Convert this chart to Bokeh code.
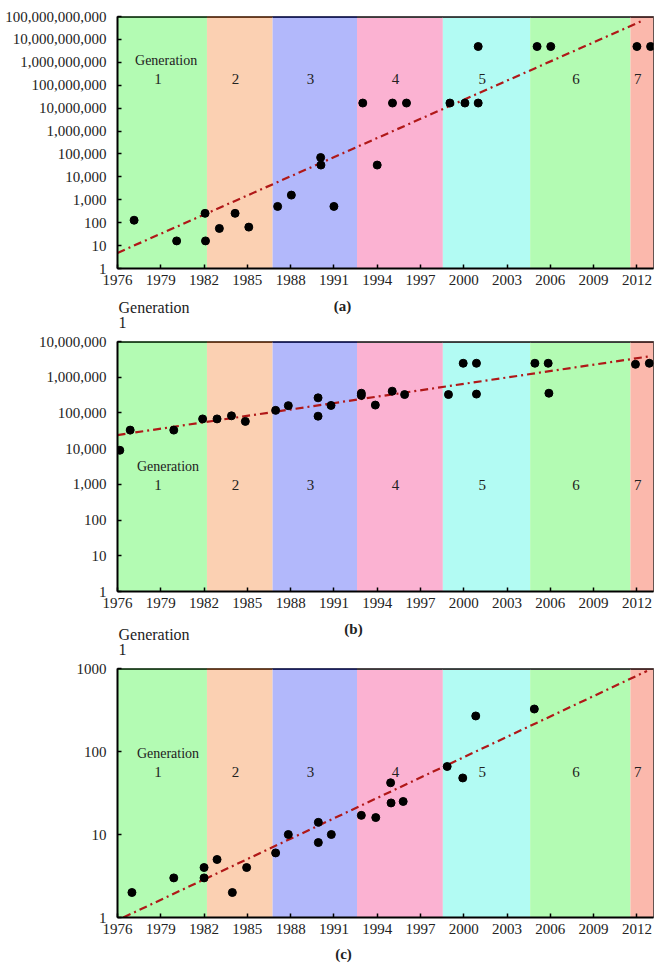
from bokeh.plotting import figure
from bokeh.layouts import column
from bokeh.models import Range1d, FixedTicker, NumeralTickFormatter, BoxAnnotation
from bokeh.core.properties import value
from bokeh.embed import file_html
from bokeh.resources import INLINE

FONT = "Liberation Serif"
TXT = "#222222"
BORDER_L, BORDER_R, WIDTH = 117, 3, 656

# ---- shared categories ----
band_edges = [1976.0, 1982.2, 1986.75, 1992.6, 1998.55, 2004.6, 2011.55, 2013.15]
band_names = ["1", "2", "3", "4", "5", "6", "7"]
band_fill = ["#b3fbb3", "#fbd0b2", "#b2b8fb", "#fbb2d2", "#b2fbf3", "#b3fbb3", "#fbb8ac"]
band_top = ["#244a24", "#6a3a1c", "#1c2160", "#3a3a3a", "#3a3a3a", "#3a3a3a", "#4a2a2a"]
x_ticks = [1976, 1979, 1982, 1985, 1988, 1991, 1994, 1997, 2000, 2003, 2006, 2009, 2012]

# ---- panel (a) ----
years_a = [1977.15, 1980.1, 1982.07, 1982.1, 1983.06, 1984.15, 1985.1, 1987.1, 1988.05,
           1990.08, 1990.1, 1991.0, 1993.0, 1994.0, 1995.06, 1996.03, 1999.04, 2000.08,
           2001.0, 2001.0, 2005.08, 2006.03, 2012.0, 2012.95]
values_a = [128, 16, 256, 16, 56, 256, 64, 512, 1600,
            70000, 32768, 512, 16.7e6, 32768, 16.7e6, 16.7e6, 16.7e6, 16.7e6,
            16.7e6, 4.9e9, 4.9e9, 4.9e9, 4.9e9, 4.9e9]
trend_years_a = [1976.0, 2012.47]
trend_values_a = [4.8, 6.9e10]
y_ticks_a = [1, 10, 100, 1e3, 1e4, 1e5, 1e6, 1e7, 1e8, 1e9, 1e10, 1e11]

# ---- panel (b) ----
years_b = [1976.16, 1976.88, 1979.9, 1981.9, 1982.9, 1983.9, 1984.86, 1986.96, 1987.84,
           1989.9, 1989.9, 1990.8, 1992.9, 1992.9, 1993.87, 1995.04, 1995.9, 1998.94,
           1999.96, 2000.88, 2000.88, 2004.93, 2005.85, 2005.9, 2011.9, 2012.86]
values_b = [9000, 33000, 33000, 68000, 68000, 83000, 58000, 118000, 160000,
            265000, 81000, 162000, 356000, 309000, 166000, 406000, 327000, 327000,
            2.46e6, 2.46e6, 337000, 2.46e6, 2.46e6, 356000, 2.3e6, 2.46e6]
trend_years_b = [1976.0, 2012.82]
trend_values_b = [24000, 3.8e6]
y_ticks_b = [1, 10, 100, 1e3, 1e4, 1e5, 1e6, 1e7]

# ---- panel (c) ----
years_c = [1977.0, 1979.9, 1982.0, 1982.0, 1982.9, 1983.96, 1984.95, 1986.96, 1987.84,
           1989.92, 1989.92, 1990.82, 1992.9, 1993.9, 1994.93, 1994.96, 1995.8, 1998.85,
           1999.93, 2000.83, 2004.89]
values_c = [2, 3, 4, 3, 5, 2, 4, 6, 10,
            14, 8, 10, 17, 16, 42, 24, 25, 66,
            48, 268, 325]
trend_years_c = [1976.4, 2012.7]
trend_values_c = [1.0, 935]
y_ticks_c = [1, 10, 100, 1000]


def make_panel(years, vals, tx, ty, yticks, yfmt, gen_y, num_y, height, bt, bb, gen_x):
    ymin, ymax = yticks[0], yticks[-1]
    p = figure(width=WIDTH, height=height, x_range=Range1d(band_edges[0], band_edges[-1]),
               y_range=Range1d(ymin, ymax), y_axis_type="log",
               output_backend="svg", toolbar_location=None,
               min_border_left=BORDER_L, min_border_right=BORDER_R,
               min_border_top=bt, min_border_bottom=bb)
    p.background_fill_color = "white"
    p.border_fill_color = "white"
    p.outline_line_color = "#333333"
    p.outline_line_width = 1
    p.xgrid.visible = False
    p.ygrid.visible = False

    for l, r, c in zip(band_edges[:-1], band_edges[1:], band_fill):
        p.add_layout(BoxAnnotation(left=l, right=r, fill_color=c, fill_alpha=1.0,
                                   line_color=None, level="underlay"))
    p.segment(x0=band_edges[:-1], x1=band_edges[1:], y0=[ymax] * 7, y1=[ymax] * 7,
              line_color=band_top, line_width=3)

    mids = [(l + r) / 2 - 0.3 for l, r in zip(band_edges[:-1], band_edges[1:])]
    p.text(x=mids, y=[num_y] * 7, text=band_names, text_font=value(FONT),
           text_font_size="15px", text_align="center", text_baseline="middle",
           text_color=TXT)
    p.text(x=[gen_x], y=[gen_y], text=["Generation"], text_font=value(FONT),
           text_font_size="14px", text_align="center", text_baseline="middle",
           text_color=TXT)

    p.line(tx, ty, line_color="#b01818", line_width=2.2, line_dash="8 4 2 4")
    p.scatter(years, vals, size=8, color="black")

    for ax in (p.xaxis[0], p.yaxis[0]):
        ax.axis_line_width = 2
        ax.axis_line_color = "black"
        ax.major_tick_in = 4
        ax.major_tick_out = 0
        ax.minor_tick_in = 0
        ax.minor_tick_out = 0
        ax.major_tick_line_width = 1.5
        ax.major_tick_line_color = "black"
        ax.major_label_text_font = FONT
        ax.major_label_text_color = TXT
    p.xaxis.ticker = FixedTicker(ticks=x_ticks)
    p.xaxis.major_label_text_font_size = "15px"
    p.xaxis.major_label_standoff = 6
    p.yaxis.ticker = FixedTicker(ticks=yticks)
    p.yaxis.formatter = NumeralTickFormatter(format=yfmt)
    p.yaxis.major_label_text_font_size = "15px"
    p.yaxis.major_label_standoff = 11
    return p


def strip(height, items):
    """Text-only band between panels; x is page pixels, y is pixels from the strip top."""
    s = figure(width=WIDTH, height=height, x_range=Range1d(BORDER_L, WIDTH - BORDER_R),
               y_range=Range1d(height, 0),
               output_backend="svg", toolbar_location=None, x_axis_type=None, y_axis_type=None,
               min_border_left=BORDER_L, min_border_right=BORDER_R,
               min_border_top=0, min_border_bottom=0)
    s.outline_line_color = None
    s.background_fill_color = "white"
    s.border_fill_color = "white"
    s.xgrid.visible = False
    s.ygrid.visible = False
    for txt, x, y, align, style, size in items:
        s.text(x=[x], y=[y], text=[txt], text_font=value(FONT), text_font_style=style,
               text_font_size=size, text_align=align, text_baseline="middle",
               text_color=TXT)
    return s


pa = make_panel(years_a, values_a, trend_years_a, trend_values_a, y_ticks_a, "0,0",
                10 ** 9.07, 10 ** 8.28, 293, 16, 25, 1979.37)
s1 = strip(39, [("(a)", 342, 12, "center", "bold", "15px"),
                ("Generation", 118, 14, "left", "normal", "16px"),
                ("1", 118, 29, "left", "normal", "16px")])
pb = make_panel(years_b, values_b, trend_years_b, trend_values_b, y_ticks_b, "0,0",
                10 ** 3.5, 10 ** 2.97, 283, 9, 24, 1979.5)
s2 = strip(44, [("(b)", 353, 13, "center", "bold", "15px"),
                ("Generation", 118, 19, "left", "normal", "16px"),
                ("1", 118, 34, "left", "normal", "16px")])
pc = make_panel(years_c, values_c, trend_years_c, trend_values_c, y_ticks_c, "0",
                10 ** 1.975, 10 ** 1.75, 284, 9, 26, 1979.5)
s3 = strip(22, [("(c)", 343, 10, "center", "bold", "15px")])

layout = column(pa, s1, pb, s2, pc, s3, spacing=0)
open("out.html", "w").write(file_html(layout, INLINE))
